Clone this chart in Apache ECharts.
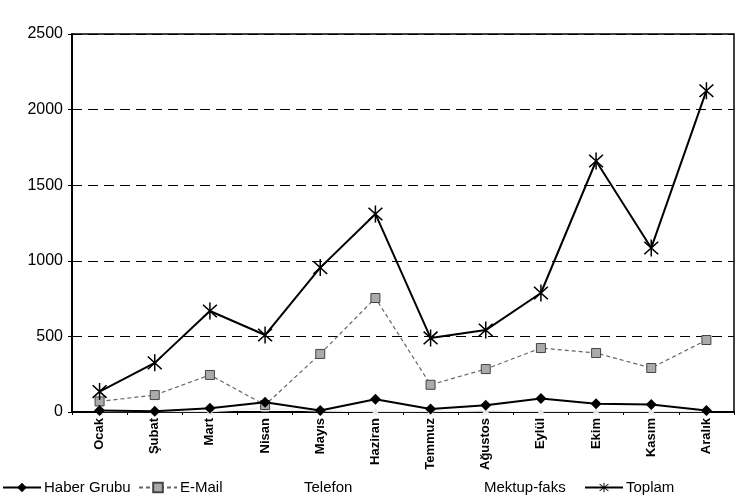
<!DOCTYPE html>
<html><head><meta charset="utf-8">
<script src="https://cdn.jsdelivr.net/npm/echarts@6/dist/echarts.min.js"></script>
<style>html,body{margin:0;padding:0;background:#fff}#c{width:737px;height:503px}</style>
</head><body><div id="c"></div>
<script>
const months = ['Ocak','Şubat','Mart','Nisan','Mayıs','Haziran','Temmuz','Ağustos','Eylül','Ekim','Kasım','Aralık'];
const haberGrubu = [10, 5, 25, 65, 10, 85, 20, 45, 90, 55, 50, 10];
const eMail = [70, 112, 245, 46, 384, 754, 180, 284, 423, 390, 291, 476];
const telefon = [5, 5, 5, 30, 10, 5, 5, 10, 5, 5, 5, 5];
const mektupFaks = [2, 2, 2, 20, 5, 2, 2, 5, 2, 2, 2, 2];
const toplam = [135, 325, 668, 509, 955, 1310, 490, 542, 787, 1660, 1085, 2125];
const yTicks = [0, 500, 1000, 1500, 2000, 2500];

const star = 'path://M-0.8,-10 L0.8,-10 L0.8,10 L-0.8,10 Z M-8,-6.8 L-6.8,-8 L8,6.8 L6.8,8 Z M6.8,-8 L8,-6.8 L-6.8,8 L-8,6.8 Z';
const font = 'Arial, "Liberation Sans", sans-serif';
const chart = echarts.init(document.getElementById('c'));
function leg(name, left, hide){
  const l = {data:[name], left:left, top:480, itemWidth:38, itemHeight:12, itemGap:0,
    textStyle:{fontFamily:font, fontSize:15, color:'#000', padding:[0,0,0,-2]}, selectedMode:false, padding:0};
  if (hide) { l.itemStyle = {opacity:0}; l.lineStyle = {opacity:0}; }
  return l;
}
chart.setOption({
  animation:false,
  backgroundColor:'#fff',
  grid:{left:72, right:3, top:34, bottom:91, show:true, borderColor:'#000', borderWidth:1.5},
  legend:[leg('Haber Grubu',2), leg('E-Mail',138), leg('Telefon',262,true), leg('Mektup-faks',442,true), leg('Toplam',584)],
  xAxis:{type:'category', data:months, boundaryGap:true,
    axisLine:{lineStyle:{color:'#000', width:2}},
    axisTick:{show:true, length:3, lineStyle:{color:'#000'}},
    axisLabel:{rotate:90, fontFamily:font, fontSize:13, fontWeight:'bold', color:'#000', margin:6}},
  yAxis:{type:'value', min:yTicks[0], max:yTicks[yTicks.length-1], interval:500,
    axisLine:{show:true, lineStyle:{color:'#000', width:2}},
    axisTick:{show:true, length:4, lineStyle:{color:'#000'}},
    axisLabel:{fontFamily:font, fontSize:16, color:'#000', margin:9, formatter:function(v){return String(v);}},
    splitLine:{lineStyle:{color:'#000', type:[10,6], width:1}}},
  series:[
    {name:'Haber Grubu', type:'line', data:haberGrubu, symbol:'diamond', symbolSize:11,
      lineStyle:{color:'#000', width:2}, itemStyle:{color:'#000'}, z:5},
    {name:'E-Mail', type:'line', data:eMail, symbol:'rect', symbolSize:9,
      lineStyle:{color:'#666', width:1.2, type:[4,3]}, itemStyle:{color:'#aaa', borderColor:'#444', borderWidth:1}, z:4},
    {name:'Telefon', type:'line', data:telefon, symbol:'triangle', symbolSize:8,
      lineStyle:{color:'#f4f4f4', width:1}, itemStyle:{color:'#f0f0f0'}, z:2},
    {name:'Mektup-faks', type:'line', data:mektupFaks, symbol:'circle', symbolSize:4,
      lineStyle:{color:'#f4f4f4', width:1}, itemStyle:{color:'#e8e8e8'}, z:2},
    {name:'Toplam', type:'line', data:toplam, symbol:star, symbolSize:[15,17],
      lineStyle:{color:'#000', width:2}, itemStyle:{color:'#000'}, z:6}
  ]
});
</script></body></html>
